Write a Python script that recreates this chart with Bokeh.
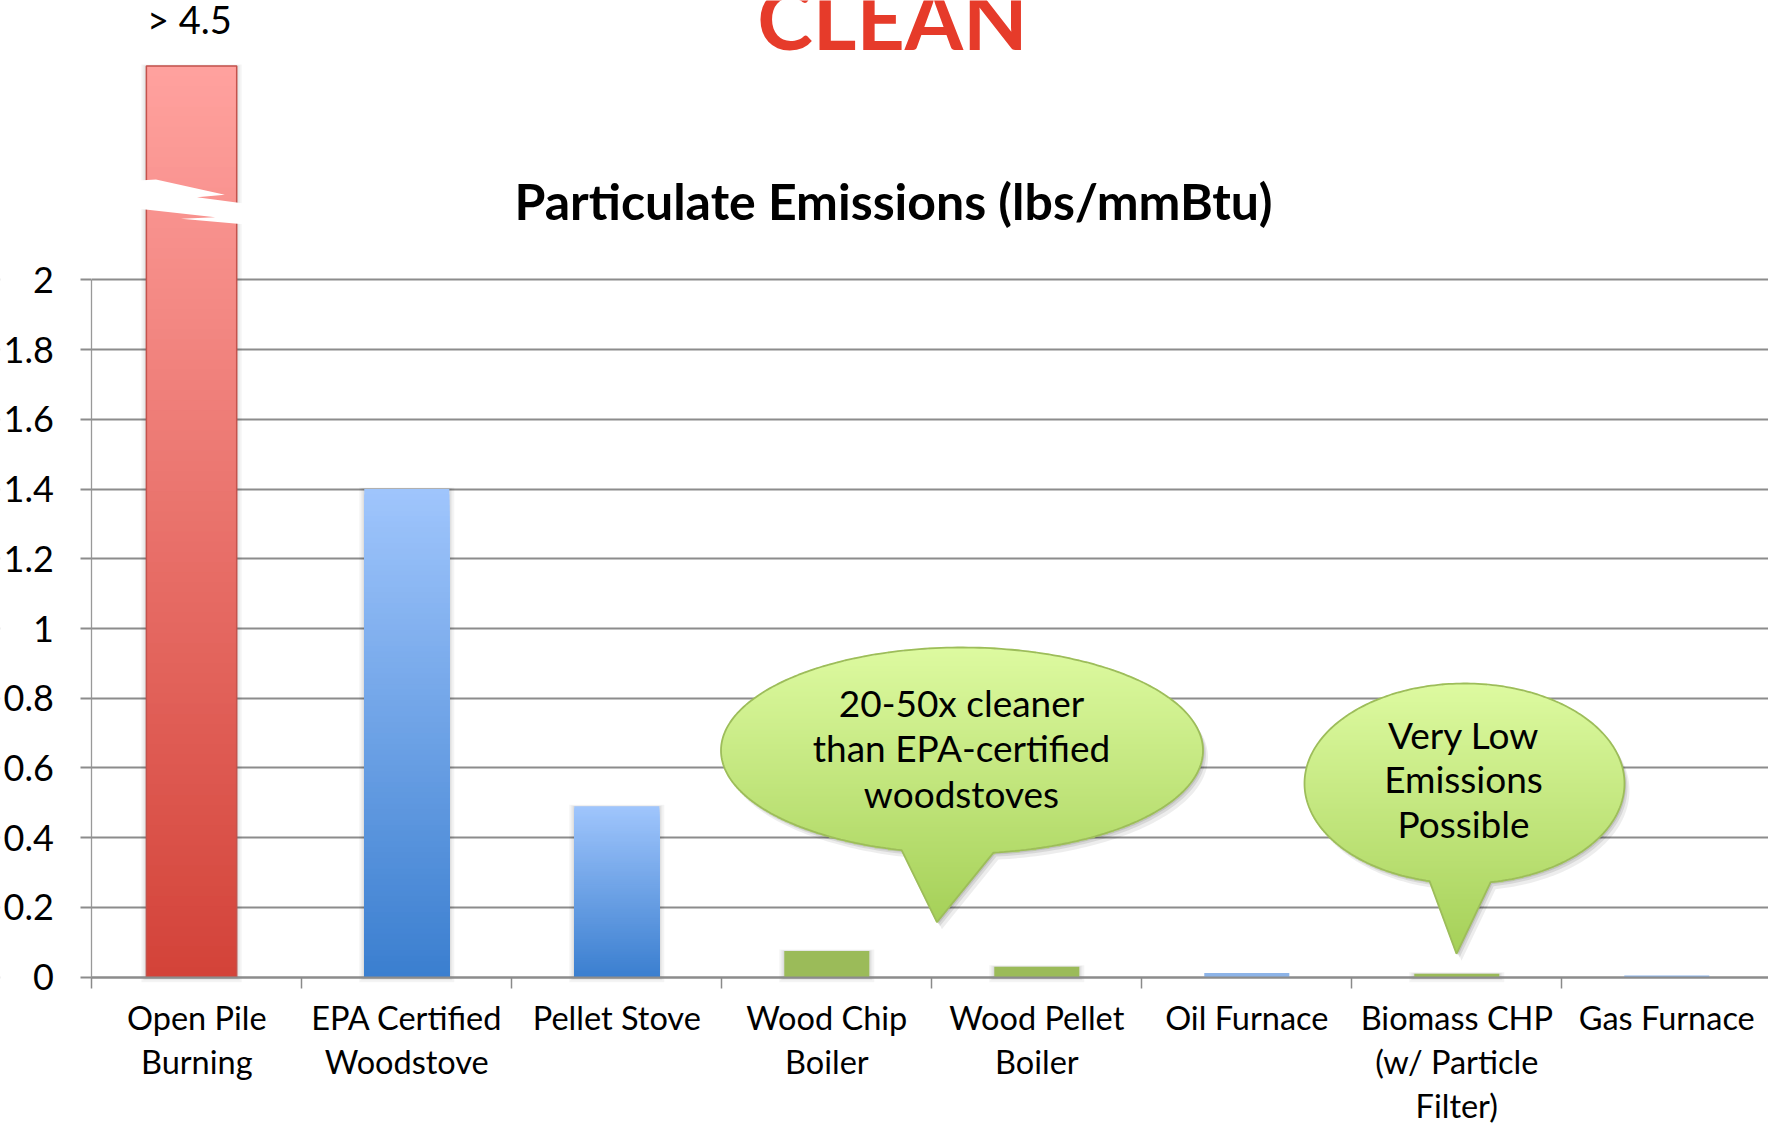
import numpy as np
from bokeh.plotting import figure
from bokeh.models import Range1d, FixedTicker, NumeralTickFormatter, Label, ColumnDataSource
from bokeh.embed import file_html
from bokeh.resources import INLINE

# ---------------- data ----------------
categories = ["Open Pile\nBurning", "EPA Certified\nWoodstove", "Pellet Stove",
              "Wood Chip\nBoiler", "Wood Pellet\nBoiler", "Oil Furnace",
              "Biomass CHP\n(w/ Particle\nFilter)", "Gas Furnace"]
emissions = [4.5, 1.40, 0.49, 0.075, 0.03, 0.012, 0.01, 0.005]
bar_kind = ["red", "blue", "blue", "green", "green", "pale", "green", "pale"]
y_ticks = [0, 0.2, 0.4, 0.6, 0.8, 1.0, 1.2, 1.4, 1.6, 1.8, 2.0]
headline = "CLEAN"
chart_title = "Particulate Emissions (lbs/mmBtu)"
off_scale_label = "> 4.5"
callout_a = ["20-50x cleaner", "than EPA-certified", "woodstoves"]
callout_b = ["Very Low", "Emissions", "Possible"]

# ---------------- layout (picture pixels -> data) ----------------
W, H = 1768, 1123
X0, SX = 91.3, 210.0      # picture x of category axis origin, px per category
Y0, SY = 976.7, 348.7     # picture y of value 0, px per unit


def dx(px):
    return (px - X0) / SX


def dy(py):
    return (Y0 - py) / SY


BREAK_TOP = 2.613   # drawn height of the off-scale bar (axis break)
BREAK_Y = 2.2275    # where the break mark sits
FONT = "Lato"
BASE_FIX = 0.40     # label baseline correction (fraction of font size)
GRID = "#8c8c8c"

p = figure(width=W, height=H, output_backend="svg", toolbar_location=None,
           x_range=Range1d(dx(0), dx(W)), y_range=Range1d(dy(H), dy(0)),
           min_border=0, outline_line_color=None,
           background_fill_color="white", border_fill_color="white")

# grid
p.xgrid.visible = False
p.ygrid.ticker = FixedTicker(ticks=y_ticks)
p.ygrid.grid_line_color = GRID
p.ygrid.grid_line_width = 2

# mask grid left of the value axis
p.quad(left=dx(-20), right=0, bottom=dy(H + 20), top=dy(-20), fill_color="white", line_color=None)

# axes
xa = p.xaxis[0]
xa.fixed_location = 0
xa.bounds = (0, len(categories))
xa.ticker = FixedTicker(ticks=[i + 0.5 for i in range(len(categories))],
                        minor_ticks=list(range(len(categories) + 1)))
xa.major_label_overrides = {i + 0.5: c for i, c in enumerate(categories)}
xa.major_tick_out = 0
xa.major_tick_in = 0
xa.minor_tick_out = 11
xa.minor_tick_in = 0
xa.minor_tick_line_color = "#8a8a8a"
xa.minor_tick_line_width = 1.5
xa.axis_line_color = GRID
xa.axis_line_width = 2
xa.major_label_text_font = FONT
xa.major_label_text_font_size = "32.5px"
xa.major_label_text_color = "black"
xa.major_label_standoff = 10
xa.major_label_text_line_height = 1.12

ya = p.yaxis[0]
ya.fixed_location = 0
ya.bounds = (0, 2)
ya.ticker = FixedTicker(ticks=y_ticks, minor_ticks=[])
ya.formatter = NumeralTickFormatter(format="0.[0]")
ya.major_tick_out = 11
ya.major_tick_in = 0
ya.minor_tick_out = 0
ya.minor_tick_in = 0
ya.major_tick_line_color = GRID
ya.major_tick_line_width = 2
ya.axis_line_color = "#999999"
ya.axis_line_width = 1.3
ya.major_label_text_font = FONT
ya.major_label_text_font_size = "36px"
ya.major_label_text_color = "black"
ya.major_label_standoff = 27

# bars (vertical gradient built from nested rectangles)
palette = {"red": ((255, 161, 158), (211, 66, 56)),
           "blue": ((159, 197, 252), (58, 126, 207)),
           "green": ((155, 187, 89), (155, 187, 89)),
           "pale": ((141, 180, 232), (141, 180, 232))}


def mix(c1, c2, t):
    return "#%02x%02x%02x" % tuple(int(round(a + (b - a) * t)) for a, b in zip(c1, c2))


def text_y(py, size):
    # data y for a label whose baseline should sit at picture y `py`
    return dy(py - BASE_FIX * size)


L, R, B, T, C = [], [], [], [], []
SL, SR, SB, ST = [], [], [], []
N = 90
first_cx = None
for i, (v, k) in enumerate(zip(emissions, bar_kind)):
    top = min(v, BREAK_TOP)
    off = v > BREAK_TOP
    w = 0.43 if off else 0.405
    cx = i + 0.5 - (0.025 if off else 0.0)
    if off:
        first_cx, first_w, first_top = cx, w, top
    if k != "pale":
        for grow in (1.5, 3.0, 5.0):
            SL.append(cx - w / 2 - grow / SX); SR.append(cx + w / 2 + grow / SX)
            SB.append(-grow / SY); ST.append(top + grow * 0.3 / SY)
    c_top, c_bot = palette[k]
    if c_top == c_bot:
        L.append(cx - w / 2); R.append(cx + w / 2); B.append(0); T.append(top)
        C.append(mix(c_top, c_top, 0))
    else:
        for j in range(N):
            h = 1 - j / N
            L.append(cx - w / 2); R.append(cx + w / 2); B.append(0); T.append(top * h)
            C.append(mix(c_bot, c_top, h))

# soft shadow behind bars
p.quad(left=SL, right=SR, bottom=SB, top=ST, fill_color="black", fill_alpha=0.045, line_color=None)

p.quad(source=ColumnDataSource(dict(left=L, right=R, bottom=B, top=T, color=C)),
       left="left", right="right", bottom="bottom", top="top",
       fill_color="color", line_color=None)

if first_cx is not None:
    p.quad(left=first_cx - first_w / 2, right=first_cx + first_w / 2, bottom=0, top=first_top,
           fill_color=None, line_color="#c4524c", line_width=1.5)
    # axis-break mark (pixel offsets from bar centre / break level)
    brk = [(-52.8, -20), (-35.6, -21), (33.3, -5.7), (5.4, -3.3), (54.4, 3.3),
           (54.4, 24), (-10.6, 18.3), (23.7, 16.7), (-52.8, 8.3)]
    p.patch([first_cx + a / SX for a, b in brk], [BREAK_Y - b / SY for a, b in brk],
            fill_color="white", line_color=None)
    lab_py = Y0 - first_top * SY - 32
    p.add_layout(Label(x=first_cx - 0.01, y=text_y(lab_py, 38), text=off_scale_label,
                       text_align="center", text_baseline="alphabetic",
                       text_font=FONT, text_font_size="38px", text_color="black"))


# callout bubbles
def bubble(cx, cy, rx, ry, t_left, t_right, tip):
    ts = np.radians(np.linspace(t_right, t_left - 360, 260))
    xs = np.concatenate([cx + rx * np.cos(ts), [tip[0]]])
    ys = np.concatenate([cy + ry * np.sin(ts), [tip[1]]])
    return xs, ys


def scan(xs, ys, y):
    xc = []
    n = len(xs)
    for k in range(n):
        x1, y1 = xs[k], ys[k]
        x2, y2 = xs[(k + 1) % n], ys[(k + 1) % n]
        if (y1 <= y < y2) or (y2 <= y < y1):
            xc.append(x1 + (y - y1) * (x2 - x1) / (y2 - y1))
    return (min(xc), max(xc)) if xc else None


def draw_bubble(shape, lines, cx, baselines):
    xs, ys = bubble(*shape)
    for ox, oy, a in [(5, 7, 0.07), (3, 4, 0.09), (1.5, 2, 0.1)]:
        p.patch(dx(xs + ox), dy(ys + oy), fill_color="black", fill_alpha=a, line_color=None)
    top, bot = ys.min(), ys.max()
    c_top, c_bot = (221, 250, 160), (165, 208, 88)
    bl, br, bb, bt, bc = [], [], [], [], []
    y = top
    while y < bot:
        iv = scan(xs, ys, y + 1)
        if iv:
            bl.append(dx(iv[0])); br.append(dx(iv[1]))
            bt.append(dy(y)); bb.append(dy(min(y + 2.7, bot)))
            bc.append(mix(c_top, c_bot, (y - top) / (bot - top)))
        y += 2
    p.quad(source=ColumnDataSource(dict(left=bl, right=br, bottom=bb, top=bt, color=bc)),
           left="left", right="right", bottom="bottom", top="top",
           fill_color="color", line_color=None)
    p.patch(dx(xs), dy(ys), fill_color=None, line_color="#9dbd5a", line_width=1.8)
    for txt, by in zip(lines, baselines):
        p.add_layout(Label(x=dx(cx), y=text_y(by, 37), text=txt, text_align="center",
                           text_baseline="alphabetic", text_font=FONT,
                           text_font_size="37px", text_color="black"))


draw_bubble((961.5, 750, 241, 103, 104.5, 82.5, (936.4, 921.7)), callout_a, 961, [717, 762, 808])
draw_bubble((1464, 783, 160, 100, 102.6, 80.6, (1456, 953.3)), callout_b, 1463, [749, 793, 838])

# titles
p.add_layout(Label(x=dx(892), y=text_y(51, 84), text=headline, text_align="center",
                   text_baseline="alphabetic", text_font=FONT, text_font_style="bold",
                   text_font_size="84px", text_color="#e63b2a"))
p.add_layout(Label(x=dx(893), y=text_y(220, 50), text=chart_title, text_align="center",
                   text_baseline="alphabetic", text_font=FONT, text_font_style="bold",
                   text_font_size="50px", text_color="black"))

open("out.html", "w").write(file_html(p, INLINE))
